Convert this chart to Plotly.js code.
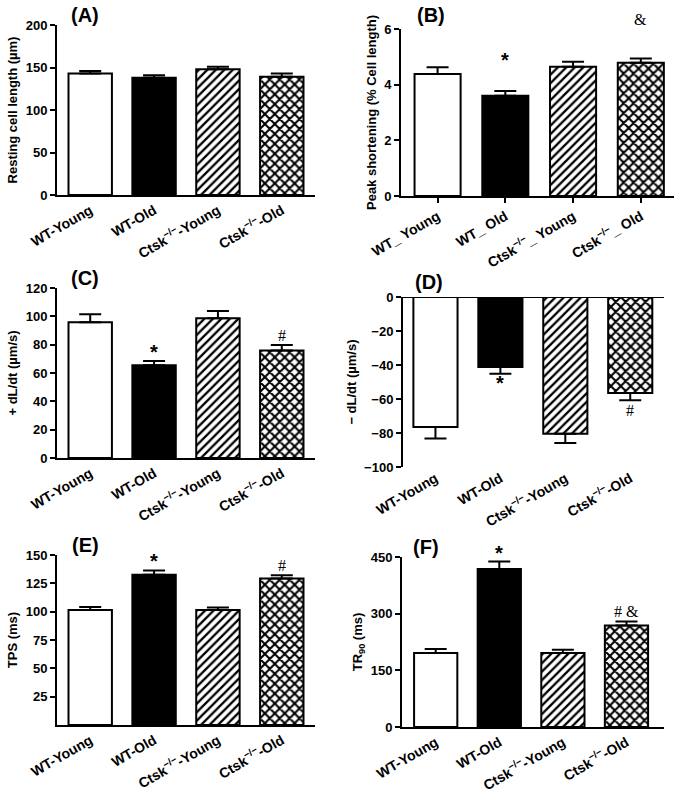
<!DOCTYPE html>
<html>
<head>
<meta charset="utf-8">
<script src="https://cdn.plot.ly/plotly-3.0.1.min.js"></script>
<style>html,body{margin:0;padding:0;background:#fff}</style>
</head>
<body>
<div id="chart" style="width:678px;height:797px"></div>
<script>
// groups
var groups = ['WT-Young', 'WT-Old', 'Ctsk<sup>−/−</sup>-Young', 'Ctsk<sup>−/−</sup>-Old'];
var groupsB = ['WT_ Young', 'WT_ Old', 'Ctsk<sup>−/−</sup>_ Young', 'Ctsk<sup>−/−</sup>_ Old'];

// (A) resting cell length
var restLen = [143, 138, 148, 139];
var restLenErr = [3, 3, 3, 4];
// (B) peak shortening
var peakShort = [4.38, 3.6, 4.64, 4.79];
var peakShortErr = [0.25, 0.17, 0.18, 0.15];
var peakShortSig = ['', '*', '', '&'];
// (C) +dL/dt
var plusDL = [95.9, 65.5, 98.7, 75.8];
var plusDLErr = [5.5, 3, 5, 4];
var plusDLSig = ['', '*', '', '#'];
// (D) -dL/dt
var minusDL = [-76.5, -41.2, -80.4, -56.5];
var minusDLErr = [6.8, 3.9, 5.5, 4.3];
var minusDLSig = ['', '*', '', '#'];
// (E) TPS
var tps = [101.5, 132.5, 101.5, 129.3];
var tpsErr = [2.6, 3.9, 2.1, 2.9];
var tpsSig = ['', '*', '', '#'];
// (F) TR90
var tr90 = [196, 418, 196, 269];
var tr90Err = [10.5, 20, 8.5, 10.5];
var tr90Sig = ['', '*', '', '# &'];

var fills = ['white', 'black', 'white', 'white'];
var hatches = ['', '', '/', 'x'];
var hatchSize = [0, 0, 6, 7];
var hatchSolid = [0, 0, 0.38, 0.5];

var W = 678, H = 797;
function px(x) { return x / W; }
function py(y) { return 1 - y / H; }

var panels = [
    {lab: '(A)', cats: groups, y: restLen, e: restLenErr, sig: null, title: 'Resting cell length (µm)',
     xd: [57, 315], yd: [25, 195], xr: [-0.52, 3.52], yr: [0, 200], dt: 50, lx: 85, ly: 15},
    {lab: '(B)', cats: groupsB, y: peakShort, e: peakShortErr, sig: peakShortSig, shift: [0, 22, 0, 30], title: 'Peak shortening (% Cell length)',
     xd: [401, 674], yd: [29, 196], xr: [-0.54, 3.49], yr: [0, 6], dt: 2, lx: 431, ly: 15, xticks: true},
    {lab: '(C)', cats: groups, y: plusDL, e: plusDLErr, sig: plusDLSig, shift: [0, 0, 0, 0], title: '+ dL/dt (µm/s)',
     xd: [57, 315], yd: [288, 458], xr: [-0.52, 3.52], yr: [0, 120], dt: 20, lx: 85, ly: 278},
    {lab: '(D)', cats: groups, y: minusDL, e: minusDLErr, sig: minusDLSig, shift: [0, 0, 0, 0], title: '− dL/dt (µm/s)',
     xd: [403, 664], yd: [297, 467], xr: [-0.5, 3.52], yr: [-100, 0], dt: 20, lx: 429, ly: 282, neg: true},
    {lab: '(E)', cats: groups, y: tps, e: tpsErr, sig: tpsSig, shift: [0, 0, 0, 0], title: 'TPS (ms)',
     xd: [57, 315], yd: [555, 725], xr: [-0.52, 3.52], yr: [0, 150], tv: [25, 50, 75, 100, 125, 150], lx: 85, ly: 545},
    {lab: '(F)', cats: groups, y: tr90, e: tr90Err, sig: tr90Sig, shift: [0, 0, 0, 0], title: 'TR<sub>90</sub> (ms)',
     xd: [402, 664], yd: [557, 727], xr: [-0.53, 3.59], yr: [0, 450], dt: 150, lx: 426, ly: 547}
];

var data = [];
var layout = {
    width: W, height: H, autosize: false,
    margin: {l: 0, r: 0, t: 0, b: 0},
    paper_bgcolor: 'white', plot_bgcolor: 'white',
    showlegend: false,
    barmode: 'overlay',
    font: {family: 'Liberation Sans, Arial, sans-serif', size: 13, color: 'black', weight: 'bold'},
    annotations: [],
    shapes: []
};

panels.forEach(function (p, i) {
    var n = i === 0 ? '' : String(i + 1);
    p.cats.forEach(function (c, k) {
        var trace = {
            type: 'bar',
            x: [c],
            y: [p.y[k]],
            xaxis: 'x' + n, yaxis: 'y' + n,
            width: 0.68,
            marker: {
                color: fills[k],
                line: {color: 'black', width: 2}
            },
            error_y: {
                type: 'data', symmetric: false,
                array: [p.neg ? 0 : p.e[k]],
                arrayminus: [p.neg ? p.e[k] : 0],
                color: 'black', thickness: 2, width: 11
            },
            hoverinfo: 'none'
        };
        if (hatches[k]) {
            trace.marker.pattern = {shape: hatches[k], fgcolor: 'black', bgcolor: 'white',
                                    size: hatchSize[k], solidity: hatchSolid[k], fillmode: 'replace'};
        }
        data.push(trace);
    });

    layout['xaxis' + n] = {
        domain: [px(p.xd[0]), px(p.xd[1])],
        anchor: 'y' + n,
        type: 'category',
        categoryarray: p.cats, categoryorder: 'array',
        range: p.xr,
        showline: !p.neg, linecolor: 'black', linewidth: 2,
        ticks: p.xticks ? 'outside' : '', ticklen: 5, tickwidth: 2, tickcolor: 'black',
        tickangle: -30,
        tickfont: {size: 14},
        showgrid: false, zeroline: false, fixedrange: true
    };
    var ya = {
        domain: [py(p.yd[1]), py(p.yd[0])],
        anchor: 'x' + n,
        range: p.yr,
        showline: true, linecolor: 'black', linewidth: 2,
        ticks: 'outside', ticklen: 5, tickwidth: 2, tickcolor: 'black',
        tickfont: {size: 13},
        showgrid: false, zeroline: false, fixedrange: true,
        title: {text: p.title, font: {size: 13}, standoff: 5}
    };
    if (p.tv) { ya.tickmode = 'array'; ya.tickvals = p.tv; }
    else { ya.dtick = p.dt; ya.tick0 = 0; }
    layout['yaxis' + n] = ya;

    if (p.neg) {
        layout.shapes.push({
            type: 'line', xref: 'x' + n + ' domain', yref: 'y' + n,
            x0: 0, x1: 1, y0: 0, y1: 0,
            line: {color: 'black', width: 2}
        });
    }

    // panel letter
    layout.annotations.push({
        xref: 'paper', yref: 'paper', x: px(p.lx), y: py(p.ly),
        text: p.lab, showarrow: false, xanchor: 'center', yanchor: 'middle',
        font: {size: 20, weight: 'bold'}
    });

    // significance marks
    if (p.sig) {
        p.sig.forEach(function (s, k) {
            if (!s) return;
            var star = s === '*';
            var top = p.neg ? p.y[k] - p.e[k] : p.y[k] + p.e[k];
            layout.annotations.push({
                xref: 'x' + n, yref: 'y' + n, x: p.cats[k], y: top,
                text: s, showarrow: false,
                xanchor: 'center', yanchor: p.neg ? 'top' : 'bottom',
                yshift: p.neg ? (star ? 4 : 0) : (star ? -4 : -1) + p.shift[k],
                font: star ? {size: 20, weight: 'bold', family: 'Liberation Sans, Arial, sans-serif'}
                           : {size: 16, weight: 'normal', family: 'Liberation Serif, Times New Roman, serif'}
            });
        });
    }
});

Plotly.newPlot('chart', data, layout, {staticPlot: true});
</script>
</body>
</html>
